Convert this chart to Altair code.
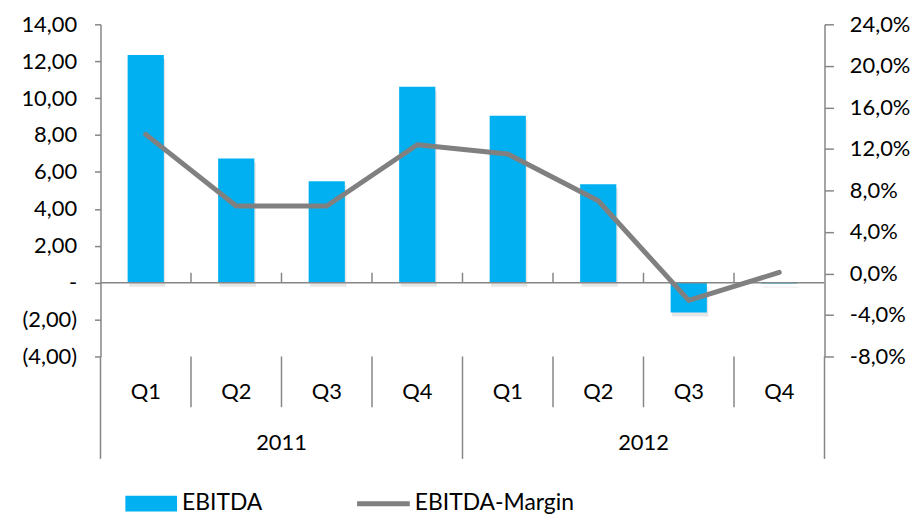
import altair as alt
import pandas as pd

# ---- data ----
quarters = ["Q1", "Q2", "Q3", "Q4", "Q1", "Q2", "Q3", "Q4"]
years = ["2011", "2011", "2011", "2011", "2012", "2012", "2012", "2012"]
ebitda = [12.34, 6.73, 5.50, 10.61, 9.05, 5.33, -1.62, -0.05]
margin = [0.134, 0.065, 0.065, 0.124, 0.115, 0.070, -0.026, 0.001]
left_ticks = [-4, -2, 0, 2, 4, 6, 8, 10, 12, 14]
right_ticks = [-0.08, -0.04, 0.0, 0.04, 0.08, 0.12, 0.16, 0.20, 0.24]
series_names = ["EBITDA", "EBITDA-Margin"]

df = pd.DataFrame({
    "period": [f"{y} {q}" for y, q in zip(years, quarters)],
    "quarter": quarters,
    "year": years,
    "ebitda": ebitda,
    "margin": margin,
})
order = list(df["period"])

W, H = 728, 334
STEP = W / len(order)
FONT = "Lato"
FS = 22
AX = "#868686"
BLUE = "#00B0F0"
GREY = "#808080"
NB = "\u00a0"

xenc = alt.X("period:N", sort=order, axis=None,
             scale=alt.Scale(paddingInner=0.6, paddingOuter=0.3))
lscale = alt.Scale(domain=[-4, 14], nice=False, zero=False)
rscale = alt.Scale(domain=[-0.08, 0.24], nice=False, zero=False)

left_label = (
    "datum.value == 0 ? '-" + NB * 4 + "' : (datum.value < 0 ? "
    "'(' + replace(format(-datum.value, '.2f'), '.', ',') + ')' : "
    "replace(format(datum.value, '.2f'), '.', ',') + '" + NB + "')"
)
right_label = "replace(replace(format(datum.value, '.1%'), '.', ','), '\u2212', '-')"

axis_common = dict(domainColor=AX, domainWidth=1.5, tickColor=AX, tickWidth=1.5,
                   grid=False, labelFont=FONT, labelFontSize=FS, labelColor="black",
                   title=None)
left_axis = alt.Axis(orient="left", values=left_ticks, labelExpr=left_label,
                     tickSize=6, labelPadding=18, **axis_common)

shadow = alt.Chart(df).mark_bar(color="#9a9a9a", opacity=0.25, xOffset=1.5,
                                 yOffset=4, y2Offset=4).encode(
    x=xenc, y=alt.Y("ebitda:Q", scale=lscale, axis=left_axis))

bars = alt.Chart(df).mark_bar(color=BLUE).encode(
    x=xenc, y=alt.Y("ebitda:Q", scale=lscale, axis=left_axis))

zero_df = df.assign(z=0)
zero_line = alt.Chart(zero_df.iloc[[0]]).mark_rule(color=AX, strokeWidth=1.5).encode(
    y=alt.Y("z:Q", scale=lscale, axis=left_axis))

zero_ticks = alt.Chart(zero_df.iloc[1:]).mark_rule(
    color=AX, strokeWidth=1.5, xOffset=-STEP / 2, yOffset=-10).encode(
    x=xenc, y=alt.Y("z:Q", scale=lscale, axis=left_axis), y2=alt.Y2("z"))

left_group = alt.layer(shadow, bars, zero_line, zero_ticks)

line = alt.Chart(df).mark_line(color=GREY, strokeWidth=5, strokeCap="round",
                               strokeJoin="round").encode(
    x=xenc,
    y=alt.Y("margin:Q", scale=rscale,
            axis=alt.Axis(orient="right", values=right_ticks, labelExpr=right_label,
                          tickSize=9, labelPadding=16, labelAlign="left", **axis_common)))

# ---- two-level category axis ----
q_text = alt.Chart(df).mark_text(font=FONT, fontSize=FS, color="black").encode(
    x=xenc, y=alt.value(370), text="quarter:N")
sep_short = alt.Chart(df[df["quarter"] != "Q1"]).mark_rule(
    color=AX, strokeWidth=1.5, xOffset=-STEP / 2).encode(
    x=xenc, y=alt.value(H), y2=alt.value(385))
sep_long = alt.Chart(df[df["quarter"] == "Q1"]).mark_rule(
    color=AX, strokeWidth=1.5, xOffset=-STEP / 2).encode(
    x=xenc, y=alt.value(H), y2=alt.value(437))
sep_end = alt.Chart(df.tail(1)).mark_rule(
    color=AX, strokeWidth=1.5, xOffset=STEP / 2).encode(
    x=xenc, y=alt.value(H), y2=alt.value(437))
y_text = alt.Chart(df[df["quarter"] == "Q3"]).mark_text(
    font=FONT, fontSize=FS, color="black", xOffset=-STEP / 2).encode(
    x=xenc, y=alt.value(421), text="year:N")

# ---- legend ----
leg = pd.DataFrame({"name": series_names})
leg_rect = alt.Chart(leg.iloc[[0]]).mark_rect(color=BLUE).encode(
    x=alt.value(25), x2=alt.value(77), y=alt.value(474), y2=alt.value(490))
leg_t1 = alt.Chart(leg.iloc[[0]]).mark_text(font=FONT, fontSize=23, align="left",
                                            color="black").encode(
    x=alt.value(82), y=alt.value(481), text="name:N")
leg_line = alt.Chart(leg.iloc[[1]]).mark_rule(color=GREY, strokeWidth=5).encode(
    x=alt.value(258), x2=alt.value(311), y=alt.value(482))
leg_t2 = alt.Chart(leg.iloc[[1]]).mark_text(font=FONT, fontSize=23, align="left",
                                            color="black").encode(
    x=alt.value(316), y=alt.value(481), text="name:N")

chart = alt.layer(
    left_group, line, q_text, sep_short, sep_long, sep_end, y_text,
    leg_rect, leg_t1, leg_line, leg_t2
).resolve_scale(y="independent").properties(
    width=W, height=H,
    autosize=alt.AutoSizeParams(type="none"),
    padding={"left": 93, "top": 15, "right": 91, "bottom": 159},
    background="white",
).configure_view(stroke=None)

chart.save("out.html", embed_options={"renderer": "svg", "actions": False})
